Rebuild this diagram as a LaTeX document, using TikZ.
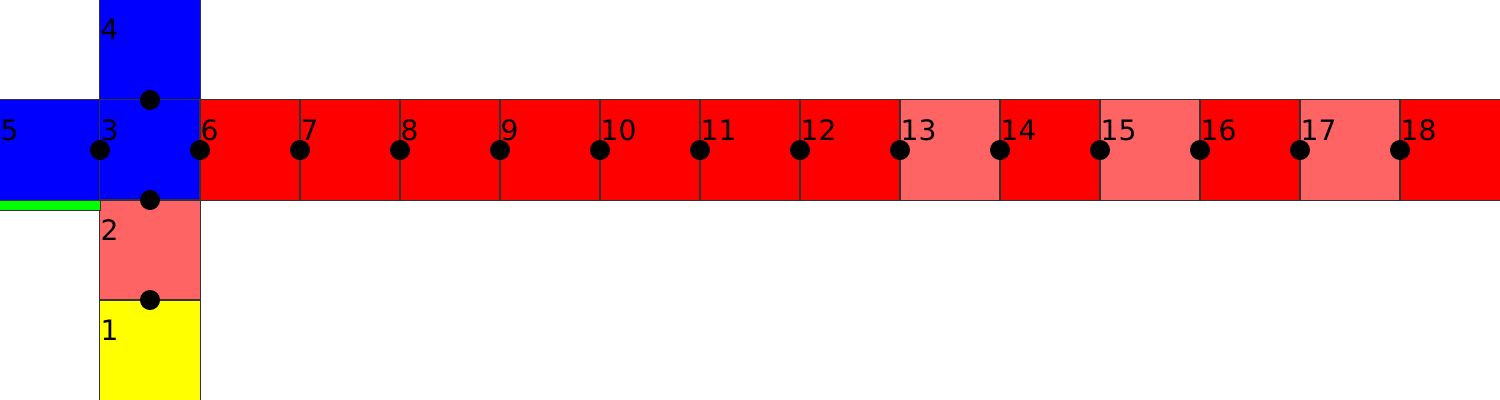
\documentclass[tikz,border=0pt]{standalone}
\usepackage{fontspec}
\setmainfont{DejaVu Sans}
\definecolor{cblue}{RGB}{0,0,255}
\definecolor{cred}{RGB}{255,0,0}
\definecolor{clight}{RGB}{255,100,100}
\definecolor{cyel}{RGB}{255,255,0}
\definecolor{cgreen}{RGB}{0,255,0}
\definecolor{cedge}{RGB}{50,50,50}
\begin{document}
\begin{tikzpicture}[x=0.01cm,y=-0.01cm,
  cell/.style={draw=cedge,line width=0.3pt,minimum size=1cm,inner sep=0pt,outer sep=0pt},
  joint/.style={circle,fill=black,minimum size=0.2cm,inner sep=0pt},
  lab/.style={anchor=base west,inner sep=0pt,font=\fontsize{8pt}{9pt}\selectfont}]
\useasboundingbox (0,0) rectangle (1500,400);
% squares
\node[cell,fill=cblue] (s4) at (150,50) {};
\node[cell,fill=cblue] (s5) at (50,150) {};
\node[cell,fill=cblue] (s3) at (150,150) {};
\node[cell,fill=clight] (s2) at (150,250) {};
\node[cell,fill=cyel] (s1) at (150,350) {};
\foreach \n/\c in {6/cred,7/cred,8/cred,9/cred,10/cred,11/cred,12/cred,13/clight,14/cred,15/clight,16/cred,17/clight,18/cred}{
  \node[cell,fill=\c] (s\n) at ({250+(\n-6)*100},150) {};
}
% green strip
\node[draw=cedge,line width=0.3pt,fill=cgreen,minimum width=1cm,minimum height=0.1cm,inner sep=0pt,outer sep=0pt,anchor=north west] (gs) at ([yshift=-0.15pt]s5.south west) {};
% joints
\node[joint] (j43) at (150,100) {};
\node[joint] (j53) at (100,150) {};
\node[joint] (j36) at (200,150) {};
\node[joint] (j32) at (150,200) {};
\node[joint] (j21) at (150,300) {};
\foreach \n in {7,...,18}{
  \node[joint] (j\n) at ({300+(\n-7)*100},150) {};
}
% labels
\node[lab] (l4) at (100,40) {4};
\node[lab] (l5) at (0,140) {5};
\node[lab] (l3) at (100,140) {3};
\node[lab] (l2) at (100,240) {2};
\node[lab] (l1) at (100,340) {1};
\foreach \n in {6,...,18}{
  \node[lab] (l\n) at ({200+(\n-6)*100},140) {\n};
}
\end{tikzpicture}
\end{document}
